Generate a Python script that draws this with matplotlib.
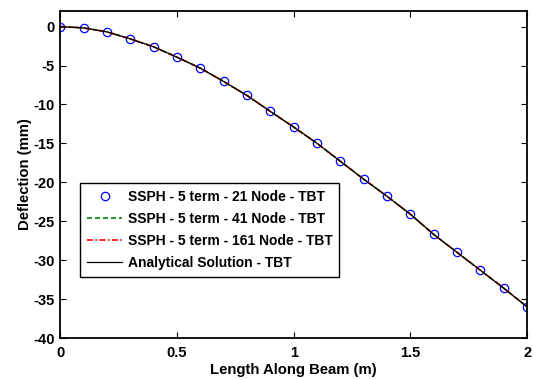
import matplotlib
matplotlib.use('Agg')
import matplotlib.pyplot as plt

plt.rcParams['font.family'] = ['Liberation Sans', 'DejaVu Sans']
plt.rcParams['font.weight'] = 'bold'
plt.rcParams['axes.unicode_minus'] = False

# Deflection (mm) along the beam (m)
x_nodes = [0.0, 0.1, 0.2, 0.3, 0.4, 0.5, 0.6, 0.7, 0.8, 0.9, 1.0,
           1.1, 1.2, 1.3, 1.4, 1.5, 1.6, 1.7, 1.8, 1.9, 2.0]
w_21 = [0.0, -0.17, -0.68, -1.58, -2.6, -3.93, -5.34, -7.05, -8.85, -10.9, -12.9,
        -15.0, -17.3, -19.6, -21.8, -24.1, -26.7, -29.0, -31.3, -33.6, -36.0]
w_41 = [0.0, -0.17, -0.68, -1.58, -2.6, -3.93, -5.34, -7.05, -8.85, -10.9, -12.9,
        -15.0, -17.3, -19.6, -21.8, -24.1, -26.7, -29.0, -31.3, -33.6, -36.0]
w_161 = [0.0, -0.17, -0.68, -1.58, -2.6, -3.93, -5.34, -7.05, -8.85, -10.9, -12.9,
         -15.0, -17.3, -19.6, -21.8, -24.1, -26.7, -29.0, -31.3, -33.6, -36.0]
w_exact = [0.0, -0.17, -0.68, -1.58, -2.6, -3.93, -5.34, -7.05, -8.85, -10.9, -12.9,
           -15.0, -17.3, -19.6, -21.8, -24.1, -26.7, -29.0, -31.3, -33.6, -36.0]

labels = ['SSPH - 5 term - 21 Node - TBT',
          'SSPH - 5 term - 41 Node - TBT',
          'SSPH - 5 term - 161 Node - TBT',
          'Analytical Solution - TBT']
x_ticks = [0, 0.5, 1, 1.5, 2]
x_ticklabels = ['0', '0.5', '1', '1.5', '2']
y_ticks = [-40, -35, -30, -25, -20, -15, -10, -5, 0]
y_ticklabels = ['-40', '-35', '-30', '-25', '-20', '-15', '-10', '-5', '0']

fig = plt.figure(figsize=(5.33, 3.79), dpi=100)
ax = fig.add_axes([0.113, 0.108, 0.876, 0.863])

ax.plot(x_nodes, w_21, 'o', mfc='none', mec='blue', ms=6, mew=0.9, label=labels[0])
ax.plot(x_nodes, w_41, '--', color='green', lw=1.2, dashes=(3, 1.8), label=labels[1])
ax.plot(x_nodes, w_161, '-.', color='red', lw=1.2, dashes=(3.5, 1.5, 1, 1.5), label=labels[2])
ax.plot(x_nodes, w_exact, '-', color='black', lw=0.9, label=labels[3])

ax.set_xlim(0, 2)
ax.set_ylim(-40, 2)
ax.set_xticks(x_ticks)
ax.set_xticklabels(x_ticklabels, fontsize=10.5, fontweight='bold')
ax.set_yticks(y_ticks)
ax.set_yticklabels(y_ticklabels, fontsize=10.5, fontweight='bold')
ax.tick_params(direction='in', top=True, right=True, length=4)
ax.tick_params(axis='x', pad=6)
ax.tick_params(axis='y', pad=4)
for s in ax.spines.values():
    s.set_linewidth(1.3)

ax.set_xlabel('Length Along Beam (m)', fontsize=10.7, fontweight='bold', labelpad=2)
ax.set_ylabel('Deflection (mm)', fontsize=10.7, fontweight='bold', labelpad=1)

leg = ax.legend(loc='upper left', bbox_to_anchor=(0.043, 0.474), fontsize=10,
                frameon=True, fancybox=False, edgecolor='black', framealpha=1,
                borderpad=0.5, labelspacing=0.58, handlelength=2.5, handletextpad=0.4,
                borderaxespad=0)
leg.get_frame().set_linewidth(1.0)

fig.savefig('out.png', dpi=100)
